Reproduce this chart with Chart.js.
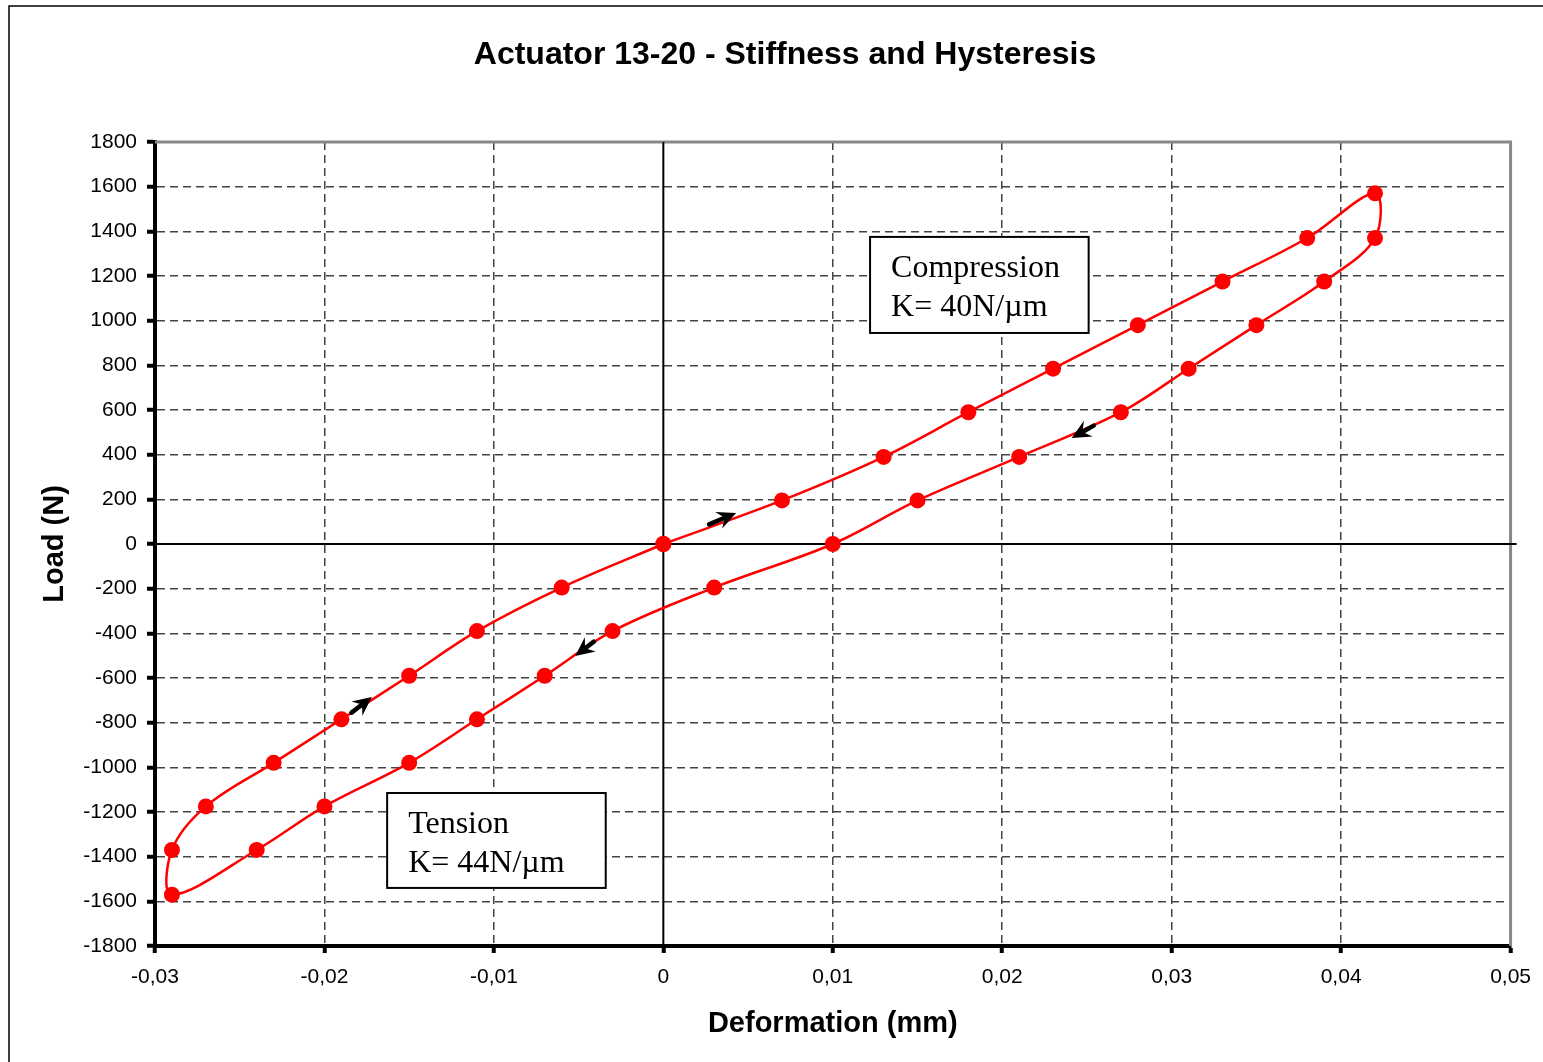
<!DOCTYPE html>
<html>
<head>
<meta charset="utf-8">
<script src="https://cdn.jsdelivr.net/npm/chart.js@4/dist/chart.umd.min.js"></script>
<style>
  body { margin: 0; background: #fff; }
  canvas { display: block; }
</style>
</head>
<body>
<canvas id="loopChart" width="1543" height="1062"></canvas>
<script>
// Loading branch (upper) and unloading branch (lower), deformation in mm, load in N
const upX = [-0.029, -0.029, -0.027, -0.023, -0.019, -0.015, -0.011, -0.006, 0, 0.007, 0.013, 0.018, 0.023, 0.028, 0.033, 0.038, 0.042];
const upY = [-1570, -1370, -1175, -980, -785, -590, -390, -195, 0, 195, 390, 590, 785, 980, 1175, 1370, 1570];
const downX = [0.042, 0.039, 0.035, 0.031, 0.027, 0.021, 0.015, 0.010, 0.003, -0.003, -0.007, -0.011, -0.015, -0.020, -0.024];
const downY = [1370, 1175, 980, 785, 590, 390, 195, 0, -195, -390, -590, -785, -980, -1175, -1370];

// Axis ranges
const xMin = -0.03, xMax = 0.05, xStep = 0.01;
const yMin = -1800, yMax = 1800, yStep = 200;

// Direction arrows along the loop: [tailX, tailY, tipX, tipY]
const arrows = [
    [0.0027, 88, 0.0043, 139],
    [-0.0184, -755, -0.0172, -685],
    [0.0254, 530, 0.0241, 475],
    [-0.0041, -437, -0.0052, -501]
];

// Text boxes: lines, and corners in data units
const notes = [
    { lines: ['Compression', 'K= 40N/\u00b5m'], x1: 0.0122, y1: 1375, x2: 0.0251, y2: 945 },
    { lines: ['Tension', 'K= 44N/\u00b5m'], x1: -0.0163, y1: -1115, x2: -0.0034, y2: -1540 }
];

// closed path, seam at the origin
const loop = [];
for (let i = 8; i < upX.length; i++) loop.push({ x: upX[i], y: upY[i] });
for (let i = 0; i < downX.length; i++) loop.push({ x: downX[i], y: downY[i] });
for (let i = 0; i <= 8; i++) loop.push({ x: upX[i], y: upY[i] });

const isZero = v => Math.abs(v) < 1e-9;
const isEdgeX = v => isZero(v - xMin) || isZero(v - xMax) || isZero(v);
const isEdgeY = v => isZero(v - yMin) || isZero(v - yMax) || isZero(v);

const framePlugin = {
    id: 'frame',
    beforeDraw(chart) {
        const ctx = chart.ctx;
        ctx.save();
        ctx.fillStyle = '#fff';
        ctx.fillRect(0, 0, chart.width, chart.height);
        ctx.strokeStyle = '#000';
        ctx.lineWidth = 1.5;
        ctx.strokeRect(9, 6, chart.width + 50, chart.height + 50);
        ctx.fillStyle = '#000';
        ctx.font = 'bold 32px "Liberation Sans", Arial, sans-serif';
        ctx.textAlign = 'center';
        ctx.textBaseline = 'middle';
        ctx.fillText('Actuator 13-20 - Stiffness and Hysteresis', 785, 55);
        ctx.restore();
    },
    beforeDatasetsDraw(chart) {
        const { ctx, chartArea: a, scales: { x, y } } = chart;
        ctx.save();
        // plot border, top and right
        ctx.strokeStyle = '#888';
        ctx.lineWidth = 3;
        ctx.beginPath();
        ctx.moveTo(a.left, a.top);
        ctx.lineTo(a.right, a.top);
        ctx.lineTo(a.right, a.bottom);
        ctx.stroke();
        // zero lines
        ctx.strokeStyle = '#000';
        ctx.lineWidth = 2;
        ctx.beginPath();
        ctx.moveTo(x.getPixelForValue(0), a.top);
        ctx.lineTo(x.getPixelForValue(0), a.bottom);
        ctx.moveTo(a.left, y.getPixelForValue(0));
        ctx.lineTo(a.right + 6, y.getPixelForValue(0));
        ctx.stroke();
        ctx.restore();
    },
    afterDatasetsDraw(chart) {
        const { ctx, scales: { x, y } } = chart;
        ctx.save();
        // arrows
        ctx.fillStyle = '#000';
        ctx.strokeStyle = '#000';
        ctx.lineCap = 'round';
        arrows.forEach(([tx, ty, hx, hy]) => {
            const x0 = x.getPixelForValue(tx), y0 = y.getPixelForValue(ty);
            const x1 = x.getPixelForValue(hx), y1 = y.getPixelForValue(hy);
            const c = Math.cos(Math.atan2(y1 - y0, x1 - x0)), s = Math.sin(Math.atan2(y1 - y0, x1 - x0));
            const len = 19, half = 9;
            ctx.lineWidth = 4.5;
            ctx.beginPath();
            ctx.moveTo(x0, y0);
            ctx.lineTo(x1 - c * len * 0.7, y1 - s * len * 0.7);
            ctx.stroke();
            ctx.beginPath();
            ctx.moveTo(x1, y1);
            ctx.lineTo(x1 - c * len - s * half, y1 - s * len + c * half);
            ctx.lineTo(x1 - c * len * 0.65, y1 - s * len * 0.65);
            ctx.lineTo(x1 - c * len + s * half, y1 - s * len - c * half);
            ctx.closePath();
            ctx.fill();
        });
        // text boxes
        notes.forEach(n => {
            const l = x.getPixelForValue(n.x1), t = y.getPixelForValue(n.y1);
            const r = x.getPixelForValue(n.x2), b = y.getPixelForValue(n.y2);
            ctx.fillStyle = '#fff';
            ctx.fillRect(l, t, r - l, b - t);
            ctx.lineWidth = 2;
            ctx.strokeStyle = '#000';
            ctx.strokeRect(l, t, r - l, b - t);
            ctx.fillStyle = '#000';
            ctx.font = '32px "Liberation Serif", "Times New Roman", serif';
            ctx.textAlign = 'left';
            ctx.textBaseline = 'alphabetic';
            n.lines.forEach((s, i) => ctx.fillText(s, l + 21, t + 40 + i * 39));
        });
        ctx.restore();
    }
};

const tickFont = { family: '"Liberation Sans", Arial, sans-serif', size: 21 };
const titleFont = { family: '"Liberation Sans", Arial, sans-serif', size: 29, weight: 'bold' };

new Chart(document.getElementById('loopChart').getContext('2d'), {
    type: 'scatter',
    data: {
        datasets: [{
            label: 'Actuator 13-20',
            data: loop,
            showLine: true,
            tension: 0.35,
            borderColor: '#ff0000',
            borderWidth: 2.5,
            backgroundColor: '#ff0000',
            pointRadius: 8,
            pointBorderWidth: 0,
            pointHoverRadius: 8
        }]
    },
    options: {
        responsive: false,
        animation: false,
        layout: { padding: { top: 142, right: 31, left: 0, bottom: 0 } },
        plugins: {
            legend: { display: false },
            tooltip: { enabled: false }
        },
        scales: {
            x: {
                type: 'linear',
                min: xMin,
                max: xMax,
                afterFit: s => { s.height = 116; },
                ticks: {
                    stepSize: xStep,
                    color: '#000',
                    font: tickFont,
                    padding: 12,
                    maxRotation: 0,
                    callback: v => isZero(v) ? '0' : v.toFixed(2).replace('.', ',')
                },
                grid: {
                    color: c => (c.tick && isEdgeX(c.tick.value)) ? 'rgba(0,0,0,0)' : '#444',
                    lineWidth: 1.5,
                    tickColor: '#000',
                    tickWidth: 4,
                    tickLength: 7,
                    tickBorderDash: []
                },
                border: { display: true, color: '#000', width: 4, dash: [8, 5] },
                title: {
                    display: true,
                    text: 'Deformation (mm)',
                    color: '#000',
                    font: titleFont,
                    padding: { top: 0, bottom: 21 }
                }
            },
            y: {
                type: 'linear',
                min: yMin,
                max: yMax,
                afterFit: s => { s.width = 155; },
                ticks: {
                    stepSize: yStep,
                    color: '#000',
                    font: tickFont,
                    padding: 10,
                    callback: v => String(v)
                },
                grid: {
                    color: c => (c.tick && isEdgeY(c.tick.value)) ? 'rgba(0,0,0,0)' : '#444',
                    lineWidth: 1.5,
                    tickColor: '#000',
                    tickWidth: 4,
                    tickLength: 8,
                    tickBorderDash: []
                },
                border: { display: true, color: '#000', width: 4, dash: [8, 5] },
                title: {
                    display: true,
                    text: 'Load (N)',
                    color: '#000',
                    font: titleFont,
                    padding: { top: 38, bottom: 0 }
                }
            }
        }
    },
    plugins: [framePlugin]
});
</script>
</body>
</html>
